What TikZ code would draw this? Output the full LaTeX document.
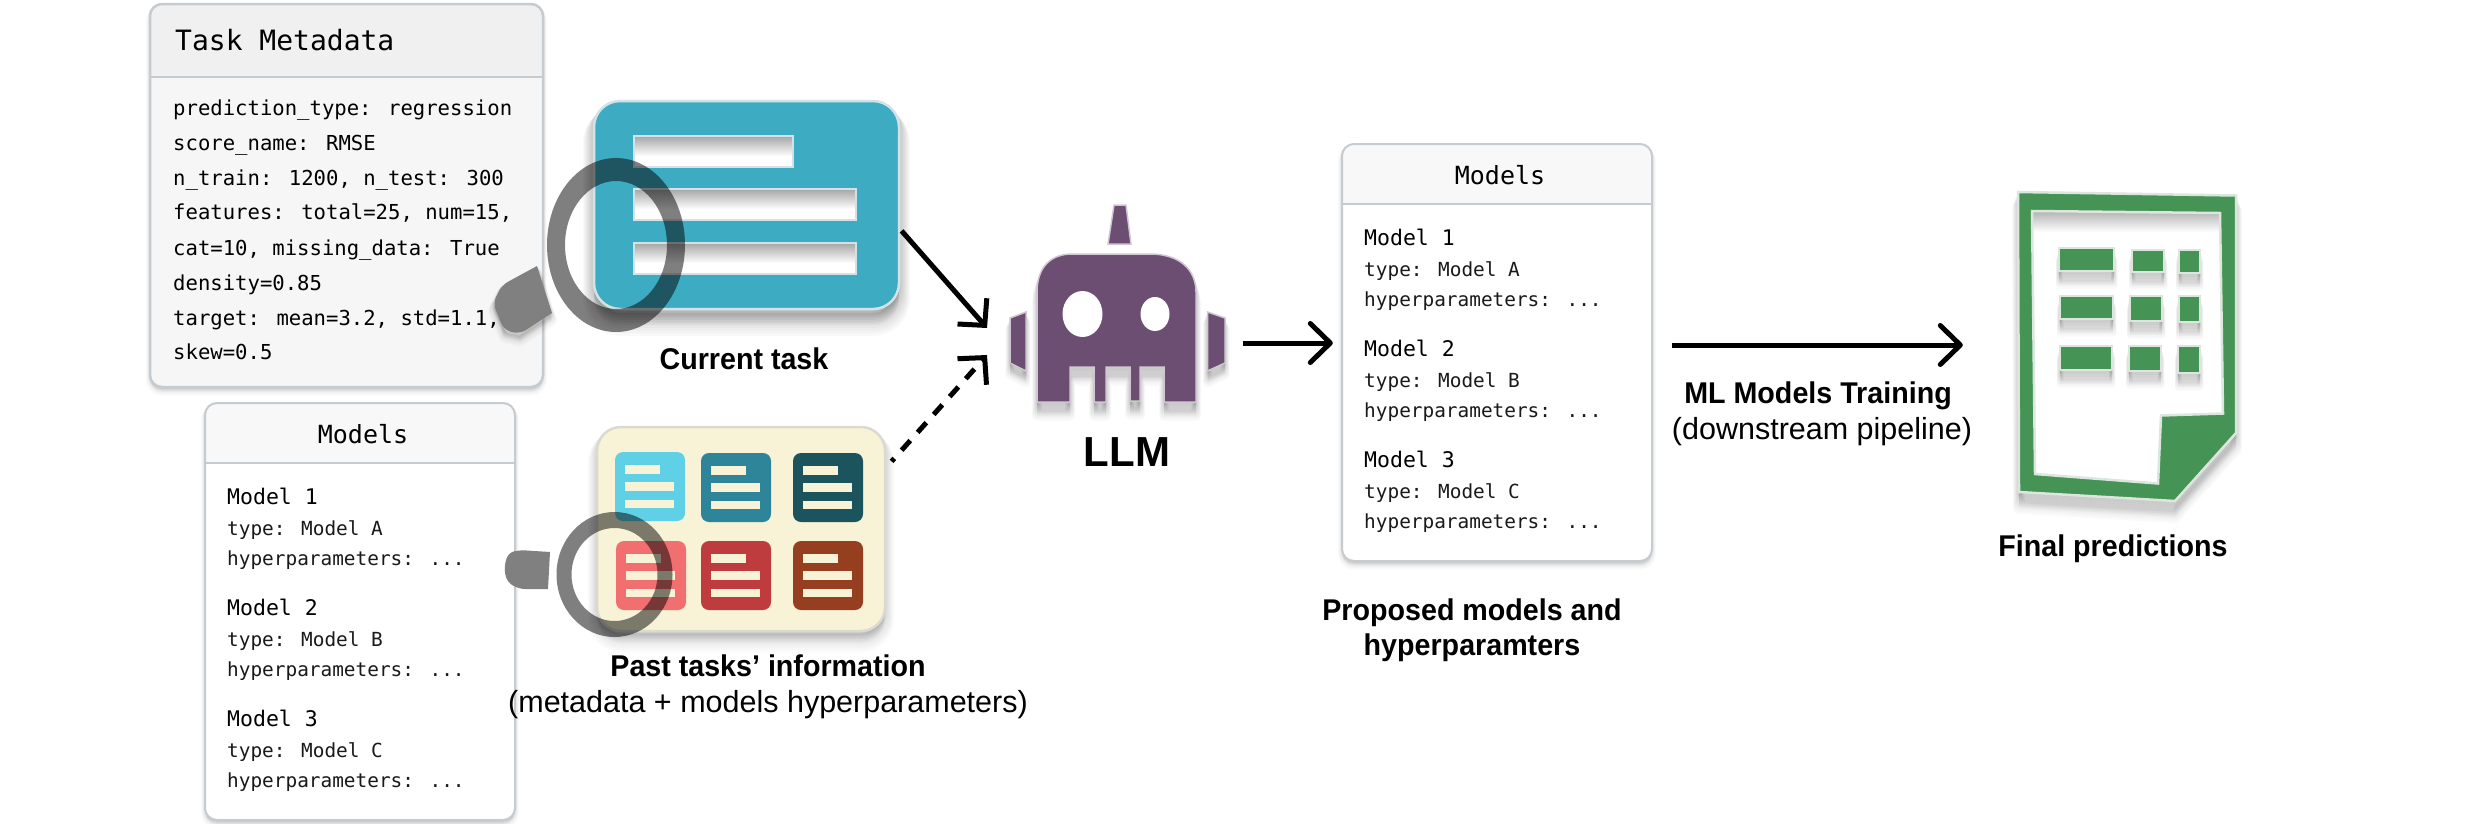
\documentclass[tikz,border=0pt]{standalone}
\usepackage{graphicx}
\usepackage{fontspec}
\setmainfont{Liberation Sans}
\newfontfamily\monof{DejaVu Sans Mono}
\usetikzlibrary{arrows.meta,calc}
\definecolor{cardline}{HTML}{C6CBD0}
\definecolor{metafill}{HTML}{F6F6F6}
\definecolor{metahead}{HTML}{F0F0F0}
\definecolor{modelhead}{HTML}{F8F8F8}
\definecolor{teal}{HTML}{3DACC3}
\definecolor{tealedge}{HTML}{D3E2E6}
\definecolor{cream}{HTML}{F8F3D6}
\definecolor{creamedge}{HTML}{DADAD0}
\definecolor{robot}{HTML}{6B4E71}
\definecolor{robotedge}{HTML}{CFC8D2}
\definecolor{docgreen}{HTML}{459355}
\definecolor{docedge}{HTML}{DCE6DF}
\definecolor{handlegray}{HTML}{808080}
\definecolor{tA}{HTML}{5FD0E6}
\definecolor{tB}{HTML}{2E8599}
\definecolor{tC}{HTML}{1C545E}
\definecolor{tD}{HTML}{F26F6F}
\definecolor{tE}{HTML}{BF3C3E}
\definecolor{tF}{HTML}{963F20}
\newcommand\narrowed[1]{\scalebox{.955}[1]{#1}}
\tikzset{
  x=1pt,y=-1pt,
  conn/.style={line width=5pt,draw=black},
  barbsharp/.style={-{Straight Barb[length=19pt,width=39pt,line width=5pt]}},
  barbround/.style={-{Straight Barb[length=20pt,width=39pt,line width=5pt,round]}},
  metaline/.style={anchor=base west,inner sep=0pt,font=\monof\fontsize{20.6}{25}\selectfont,text=black},
  modeltitle/.style={anchor=base west,inner sep=0pt,font=\monof\fontsize{21.5}{25}\selectfont,text=black},
  modelline/.style={anchor=base west,inner sep=0pt,font=\monof\fontsize{19.4}{24}\selectfont,text=black!90},
  boldlabel/.style={anchor=base,inner sep=0pt,font=\bfseries\fontsize{30}{36}\selectfont},
  plainlabel/.style={anchor=base,inner sep=0pt,font=\fontsize{30.5}{36}\selectfont},
  ringgray/.style={fill=black,opacity=.5},
}
% soft shadow: #1 = path, #2 = downward offset, #3 = max stroke spread, #4 = layer opacity
\newcommand\softshadow[4]{%
  \foreach \softf in {.1,.2,.3,.4,.5,.6,.7,.8,.9,1}{%
    \begin{scope}[shift={(0,{\softf*#2})}]
    \path[draw=black,fill=black,opacity=#4,line width=\softf*#3 pt,line join=round] #1;
    \end{scope}
  }}
\newcommand\holebar[4]{%
  \fill[white] (#1,#2) rectangle (#3,#4);
  \shade[top color=black!35,bottom color=white] (#1,#2) rectangle (#3,{#2+.65*(#4-#2)});
  \draw[tealedge,line width=2.5pt] (#1,#2) rectangle (#3,#4);}
\newcommand\tilebox[3]{%
  \begin{scope}[shift={(#1,#2)}]
  \fill[#3,rounded corners=8pt] (0,0) rectangle (70,69);
  \fill[cream] (10,13) rectangle (45,22);
  \fill[cream] (10,30) rectangle (59,39);
  \fill[cream] (10,48) rectangle (59,56);
  \end{scope}}
\newcommand\modelscard[3]{%
  \begin{scope}[shift={(#2,#3)}]
  \softshadow{[rounded corners=12pt] (0,0) rectangle (310,417)}{5}{8}{.012}
  \node[draw=none,fill=white,rounded corners=12pt,minimum width=310pt,minimum height=417pt,inner sep=0pt] (#1) at (155,208.5) {};
  \begin{scope}
    \clip[rounded corners=12pt] (0,0) rectangle (310,417);
    \fill[modelhead] (0,0) rectangle (310,60);
    \draw[cardline,line width=2pt] (0,60) -- (310,60);
  \end{scope}
  \draw[cardline,line width=2pt,rounded corners=12pt] (0,0) rectangle (310,417);
  \node[anchor=base,inner sep=0pt,font=\monof\fontsize{25}{30}\selectfont,text=black] (#1-title) at (158,40) {Models};
  \node[modeltitle] (#1-m1) at (22,101) {Model 1};
  \node[modelline] (#1-t1) at (22,132) {type: Model A};
  \node[modelline] (#1-h1) at (22,162) {hyperparameters: ...};
  \node[modeltitle] (#1-m2) at (22,212) {Model 2};
  \node[modelline] (#1-t2) at (22,243) {type: Model B};
  \node[modelline] (#1-h2) at (22,273) {hyperparameters: ...};
  \node[modeltitle] (#1-m3) at (22,323) {Model 3};
  \node[modelline] (#1-t3) at (22,354) {type: Model C};
  \node[modelline] (#1-h3) at (22,384) {hyperparameters: ...};
  \end{scope}}
\begin{document}
\begin{tikzpicture}
\useasboundingbox (0,0) rectangle (2481,823);
\fill[white] (0,0) rectangle (2481,823);

% ---- Task Metadata card
\softshadow{[rounded corners=12pt] (150,4) rectangle (543,387)}{5}{8}{.012}
\node[fill=metafill,rounded corners=12pt,minimum width=393pt,minimum height=383pt,inner sep=0pt] (meta) at (346.5,195.5) {};
\begin{scope}
  \clip[rounded corners=12pt] (150,4) rectangle (543,387);
  \fill[metahead] (150,4) rectangle (543,77);
  \draw[cardline,line width=2.5pt] (150,77) -- (543,77);
\end{scope}
\draw[cardline,line width=2.5pt,rounded corners=12pt] (150,4) rectangle (543,387);
\node[anchor=base west,inner sep=0pt,font=\monof\fontsize{28}{32}\selectfont,text=black] (metatitle) at (175,50) {Task Metadata};
\node[metaline] (ml1) at (173,115) {prediction\_type: regression};
\node[metaline] (ml2) at (173,150) {score\_name: RMSE};
\node[metaline] (ml3) at (173,185) {n\_train: 1200, n\_test: 300};
\node[metaline] (ml4) at (173,219) {features: total=25, num=15,};
\node[metaline] (ml5) at (173,255) {cat=10, missing\_data: True};
\node[metaline] (ml6) at (173,290) {density=0.85};
\node[metaline] (ml7) at (173,325) {target: mean=3.2, std=1.1,};
\node[metaline] (ml8) at (173,359) {skew=0.5};

% ---- Models card (left) and proposed card (right)
\modelscard{modelsleft}{205}{403}
\modelscard{modelsright}{1342}{144}

% ---- Current task icon
\softshadow{[rounded corners=26pt] (594,101) rectangle (899,309)}{16}{22}{.024}
\node[fill=teal,draw=tealedge,line width=2.5pt,rounded corners=26pt,minimum width=305pt,minimum height=208pt,inner sep=0pt] (curtask) at (746.5,205) {};
\holebar{634}{136}{793}{167}
\holebar{634}{189}{856}{220}
\holebar{634}{243}{856}{274}

% ---- magnifier 1
\softshadow{(537,266) -- (552,313) -- (520,334) -- (504,330) -- (493,303) -- (502,285) -- cycle}{8}{10}{.016}
\fill[handlegray] (537,266) -- (552,313) [rounded corners=7pt] -- (520,334) -- (504,330) -- (493,303) -- (502,285) [sharp corners] -- cycle;
\fill[ringgray,even odd rule] (616,245) ellipse [x radius=69,y radius=87] (616,245) ellipse [x radius=51,y radius=64];

% ---- Past tasks panel
\softshadow{[rounded corners=24pt] (597,427) rectangle (885,631)}{12}{18}{.014}
\node[fill=cream,draw=creamedge,line width=2.5pt,rounded corners=24pt,minimum width=288pt,minimum height=204pt,inner sep=0pt] (pastpanel) at (741,529) {};
\tilebox{615}{452}{tA}
\tilebox{701}{453}{tB}
\tilebox{793}{453}{tC}
\tilebox{616}{541}{tD}
\tilebox{701}{541}{tE}
\tilebox{793}{541}{tF}

% ---- magnifier 2
\fill[handlegray] (550,552) -- (548,589) [rounded corners=6pt] -- (519,589) -- (507,582) -- (504,568) -- (508,553) -- (519,550) [sharp corners] -- cycle;
\fill[ringgray,even odd rule] (614.5,574.5) ellipse [x radius=58,y radius=62.5] (614.5,574.5) ellipse [x radius=43,y radius=46.5];

% ---- LLM robot
\def\robotbody{(1037,402) -- (1037,292) .. controls (1037,268) and (1050,254) .. (1072,254) -- (1150,254) .. controls (1180,254) and (1196,270) .. (1196,292) -- (1196,402) -- (1164,402) -- (1164,367) -- (1140,367) -- (1140,401) -- (1130,401) -- (1130,367) -- (1106,367) -- (1106,402) -- (1094,402) -- (1094,367) -- (1070,367) -- (1070,402) -- cycle}
\def\robotearl{(1026,312) -- (1026,371) -- (1010,363) -- (1010,318) -- cycle}
\def\robotearr{(1207.5,312) -- (1225,318) -- (1225,363) -- (1207.5,371) -- cycle}
\def\robotant{(1114,205) -- (1126,205) -- (1131,244) -- (1108,244) -- cycle}
\softshadow{\robotbody}{14}{10}{.02}
\softshadow{\robotearl}{12}{9}{.018}
\softshadow{\robotearr}{12}{9}{.018}
\node[inner sep=0pt,minimum width=215pt,minimum height=198pt] (llmicon) at (1117.5,343) {};
\path[fill=robot,draw=robotedge,line width=1.5pt] \robotbody;
\path[fill=robot,draw=robotedge,line width=1.5pt] \robotearl;
\path[fill=robot,draw=robotedge,line width=1.5pt] \robotearr;
\path[fill=robot,draw=robotedge,line width=1.5pt] \robotant;
\fill[white] (1082.5,314) ellipse [x radius=20,y radius=23];
\fill[white] (1155,314) ellipse [x radius=14.5,y radius=17];

% ---- Final predictions document
\def\docouter{(2018,192) -- (2236,195.5) -- (2236,433) -- (2175,501) -- (2019,492) -- cycle}
\softshadow{\docouter}{16}{12}{.02}
\node[inner sep=0pt,minimum width=218pt,minimum height=300pt] (docicon) at (2127,345) {};
\path[fill=docgreen,draw=docedge,line width=2.5pt] \docouter;
\begin{scope}
  \clip (2032,211) -- (2220,213) -- (2223,413.5) -- (2161,415.5) -- (2158,483.5) -- (2035,474) -- cycle;
  \fill[white] (2000,200) rectangle (2240,500);
  \shade[top color=black!30,bottom color=white] (2025,211) rectangle (2230,232);
\end{scope}
\draw[docedge,line width=2.5pt] (2032,211) -- (2220,213) -- (2223,413.5) -- (2161,415.5) -- (2158,483.5) -- (2035,474) -- cycle;
\foreach \xa/\xb/\ya/\yb in {2059/2114/248/271,2132/2164/250/272,2179/2200/250/273,2060/2113/296/319,2130/2162/296/321,2179/2200/296/322,2060/2112/346/370,2129/2161/346/371,2178/2200/346/373}{
  \softshadow{(\xa,\ya) rectangle (\xb,\yb)}{14}{7}{.02}
  \path[fill=docgreen,draw=docedge,line width=2.5pt] (\xa,\ya) rectangle (\xb,\yb);
}

% ---- Labels
\node[boldlabel] (lblcurrent) at (744,369) {\narrowed{Current task}};
\node[boldlabel] (lblpast) at (768,676) {\narrowed{Past tasks’ information}};
\node[plainlabel] (lblpastsub) at (768,712) {(metadata + models hyperparameters)};
\node[anchor=base,inner sep=0pt,font=\bfseries\fontsize{42}{48}\selectfont] (lblllm) at (1127,466) {LLM};
\node[boldlabel] (lblprop1) at (1472,620) {\narrowed{Proposed models and}};
\node[boldlabel] (lblprop2) at (1472,655) {\narrowed{hyperparamters}};
\node[boldlabel] (lbltrain) at (1818,403) {\narrowed{ML Models Training}};
\node[plainlabel] (lbltrainsub) at (1822,439) {(downstream pipeline)};
\node[boldlabel] (lblfinal) at (2113,556) {\narrowed{Final predictions}};

% ---- Connectors
\coordinate (tipone) at (987,328);
\coordinate (tiptwo) at (987,355);
\draw[conn,barbsharp,shorten <=2pt] (curtask.-9.3) -- (tipone);
\draw[conn,barbsharp,shorten <=8pt,dash pattern=on 13pt off 11pt,dash phase=9pt] (pastpanel.23.3) -- (tiptwo);
\draw[conn,barbround,shorten <=18pt,shorten >=9pt] (llmicon.east) -- (llmicon.east -| modelsright.west);
\draw[conn,barbround,shorten <=20pt,shorten >=55pt] (modelsright.east |- docicon.west) -- (docicon.west);
\end{tikzpicture}
\end{document}
